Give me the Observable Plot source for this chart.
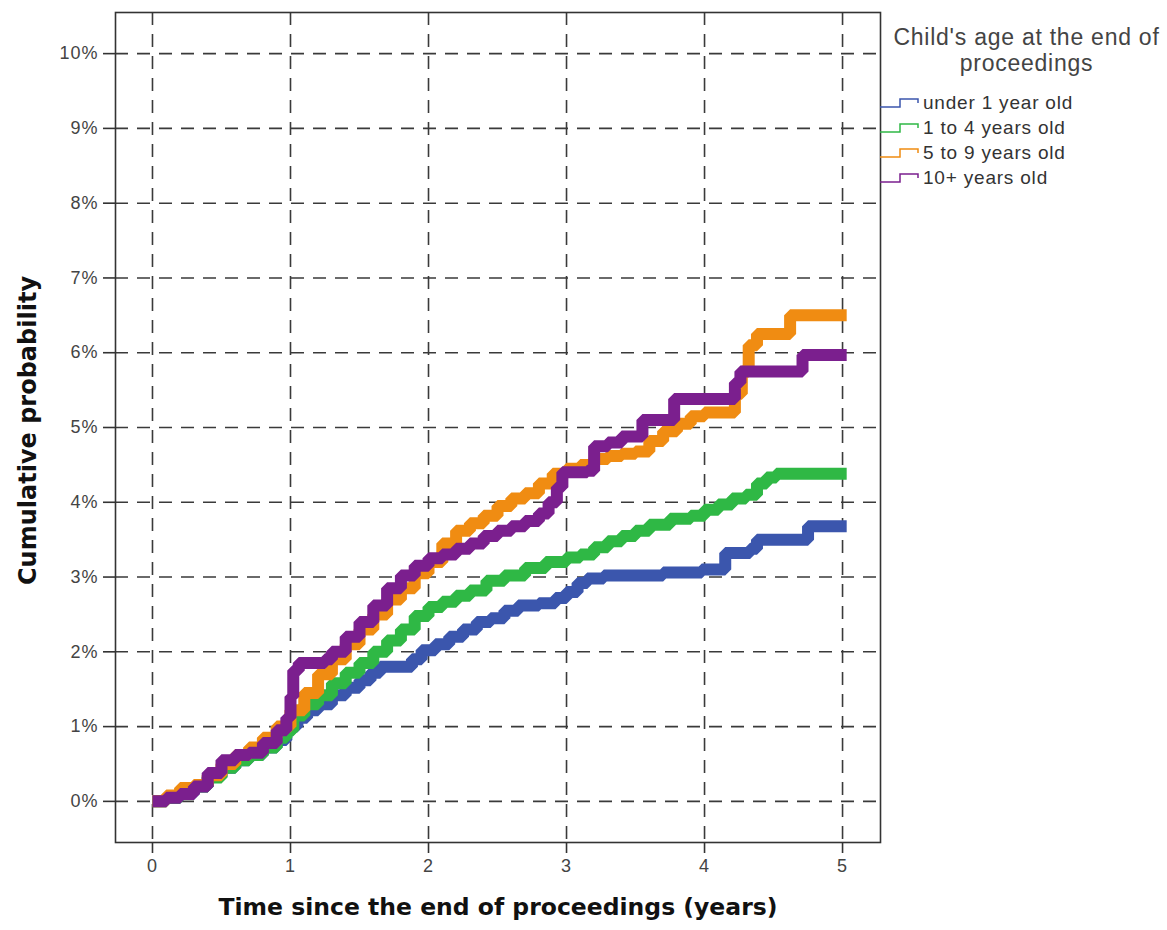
<!DOCTYPE html>
<html>
<head>
<meta charset="utf-8">
<script src="https://cdn.jsdelivr.net/npm/d3@7"></script>
<script src="https://cdn.jsdelivr.net/npm/@observablehq/plot@0.6"></script>
<style>
  html, body { margin: 0; padding: 0; background: #fff; }
  #wrap { position: relative; width: 1167px; height: 930px; font-family: "Liberation Sans", Arial, sans-serif; }
  #legend { position: absolute; left: 880px; top: 24px; width: 287px; color: #444; }
  #legend .title { text-align: center; font-size: 23px; line-height: 26px; letter-spacing: 0.75px; padding-left: 6px; }
  #legend .item { display: flex; align-items: center; height: 25px; font-size: 19px; letter-spacing: 0.8px; color: #333; }
  #legend .item svg { display: block; margin-right: 1px; }
  svg [aria-label="y-axis tick label"] text, svg [aria-label="x-axis tick label"] text { letter-spacing: 1px; }
</style>
</head>
<body>
<div id="wrap"></div>
<script>
const groups = ["under 1 year old", "1 to 4 years old", "5 to 9 years old", "10+ years old"];
const colors = ["#3b56ad", "#2fb845", "#f08c12", "#7b1f8e"];

const tUnder1 = [0,0.1,0.2,0.3,0.4,0.5,0.6,0.7,0.8,0.9,0.97,1.0,1.05,1.12,1.2,1.3,1.4,1.5,1.58,1.65,1.88,1.95,2.05,2.15,2.25,2.35,2.45,2.55,2.65,2.8,2.92,3.0,3.08,3.15,3.27,3.7,3.98,4.15,4.33,4.38,4.75,5.03];
const pUnder1 = [0,0.05,0.1,0.2,0.33,0.45,0.55,0.62,0.72,0.82,0.92,1.0,1.12,1.22,1.3,1.42,1.52,1.62,1.72,1.8,1.9,2.02,2.1,2.2,2.3,2.4,2.45,2.55,2.62,2.65,2.72,2.8,2.92,2.98,3.02,3.06,3.1,3.32,3.38,3.5,3.68,3.68];

const t1to4 = [0,0.1,0.2,0.3,0.4,0.5,0.6,0.7,0.8,0.9,0.97,1.02,1.1,1.2,1.3,1.4,1.5,1.6,1.7,1.8,1.9,2.0,2.1,2.2,2.3,2.42,2.55,2.7,2.85,3.0,3.1,3.2,3.3,3.4,3.5,3.6,3.75,3.9,4.0,4.1,4.2,4.3,4.38,4.45,4.52,5.03];
const p1to4 = [0,0.05,0.12,0.2,0.32,0.45,0.55,0.62,0.72,0.85,0.95,1.15,1.3,1.42,1.58,1.72,1.85,2.0,2.15,2.3,2.48,2.6,2.67,2.75,2.82,2.95,3.02,3.12,3.2,3.26,3.3,3.4,3.48,3.55,3.62,3.7,3.78,3.82,3.9,3.97,4.05,4.1,4.25,4.33,4.38,4.38];

const t5to9 = [0,0.1,0.2,0.3,0.4,0.5,0.6,0.7,0.8,0.9,1.0,1.1,1.2,1.3,1.4,1.5,1.6,1.7,1.8,1.9,2.0,2.1,2.2,2.3,2.4,2.5,2.6,2.7,2.8,2.9,3.0,3.1,3.2,3.3,3.4,3.5,3.6,3.7,3.8,3.9,4.0,4.1,4.22,4.27,4.32,4.38,4.62,5.03];
const p5to9 = [0,0.08,0.18,0.22,0.35,0.5,0.62,0.72,0.85,1.0,1.22,1.45,1.7,1.9,2.1,2.3,2.5,2.7,2.85,3.05,3.2,3.45,3.62,3.72,3.82,3.95,4.05,4.12,4.25,4.38,4.45,4.5,4.58,4.62,4.65,4.68,4.82,4.95,5.05,5.15,5.2,5.2,5.45,5.75,6.1,6.25,6.5,6.5];

const t10plus = [0,0.1,0.2,0.3,0.4,0.5,0.6,0.7,0.8,0.9,0.97,1.0,1.02,1.06,1.25,1.3,1.4,1.5,1.6,1.7,1.8,1.9,2.0,2.1,2.2,2.3,2.4,2.5,2.6,2.7,2.8,2.87,2.93,2.97,3.15,3.2,3.3,3.4,3.55,3.78,4.22,4.26,4.71,5.03];
const p10plus = [0,0.05,0.1,0.2,0.38,0.55,0.62,0.65,0.78,0.95,1.12,1.4,1.75,1.85,1.9,2.0,2.2,2.4,2.62,2.85,3.02,3.15,3.25,3.3,3.38,3.45,3.55,3.62,3.68,3.75,3.85,4.0,4.2,4.4,4.42,4.75,4.8,4.88,5.1,5.38,5.6,5.75,5.97,5.97];

const xTicks = [0, 1, 2, 3, 4, 5];
const yTicks = [0, 1, 2, 3, 4, 5, 6, 7, 8, 9, 10];

const series = [[tUnder1, pUnder1], [t1to4, p1to4], [t5to9, p5to9], [t10plus, p10plus]];
const rows = series.flatMap(([ts, ps], i) => ts.map((t, j) => ({group: groups[i], t, p: ps[j]})));

const dash = "13,9";
const chart = Plot.plot({
  width: 1167,
  height: 930,
  marginLeft: 115,
  marginRight: 287,
  marginTop: 12,
  marginBottom: 88,
  style: {fontFamily: "'Liberation Sans', Arial, sans-serif", fontSize: "18px", background: "#fff"},
  x: {domain: [-0.268, 5.275]},
  y: {domain: [-0.55, 10.55]},
  color: {domain: groups, range: colors},
  marks: [
    Plot.ruleX(xTicks, {stroke: "#3a3a3a", strokeWidth: 1.6, strokeDasharray: dash}),
    Plot.ruleY(yTicks, {stroke: "#3a3a3a", strokeWidth: 1.6, strokeDasharray: dash}),
    Plot.line(rows, {x: "t", y: "p", z: "group", stroke: "group", strokeWidth: 12, curve: "step-after", strokeLinejoin: "miter", strokeLinecap: "butt"}),
    Plot.frame({stroke: "#333", strokeWidth: 1.6}),
    Plot.axisX(xTicks, {tickSize: 11, tickPadding: 6, fontSize: 18, fill: "#444", stroke: "#333", strokeWidth: 1.6, tickFormat: d => String(d), label: null}),
    Plot.axisY(yTicks, {tickSize: 12, tickPadding: 5, fontSize: 18, fill: "#444", stroke: "#333", strokeWidth: 1.6, tickFormat: d => d + "%", label: null}),
    Plot.text(["Time since the end of proceedings (years)"], {frameAnchor: "bottom", dy: 72, fontSize: 23.5, fontWeight: "bold", fontFamily: "'DejaVu Sans', sans-serif", fill: "#111"}),
    Plot.text(["Cumulative probability"], {frameAnchor: "left", textAnchor: "middle", dx: -87, dy: 3, rotate: -90, fontSize: 24, fontWeight: "bold", fontFamily: "'DejaVu Sans', sans-serif", fill: "#111"})
  ]
});

const wrap = document.getElementById("wrap");
wrap.appendChild(chart);

const legend = document.createElement("div");
legend.id = "legend";
let html = `<div class="title">Child's age at the end of<br>proceedings</div><div style="height:14px"></div>`;
groups.forEach((g, i) => {
  html += `<div class="item"><svg width="42" height="12"><path d="M0 10 H20 V2 H38 V6" fill="none" stroke="${colors[i]}" stroke-width="1.5"/></svg><span>${g}</span></div>`;
});
legend.innerHTML = html;
wrap.appendChild(legend);
</script>
</body>
</html>
